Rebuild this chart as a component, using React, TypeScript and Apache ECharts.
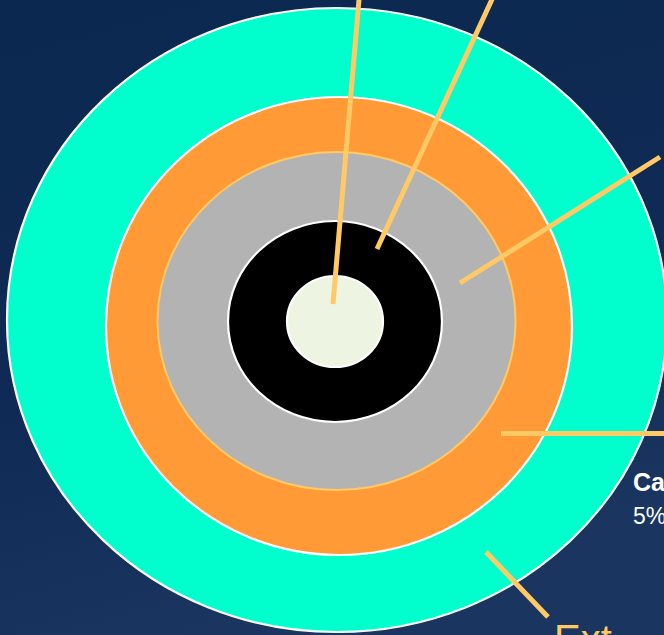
import React, { useEffect, useRef } from "react";
import * as echarts from "echarts";

// Concentric rings (outer to inner), in chart units (x: 0..664, y: 0..635, y downwards)
const ringNames = ["Outer", "Ring 2", "Ring 3", "Ring 4", "Core"];
const ringCenterX = [337, 339, 336.5, 335, 335];
const ringCenterY = [320, 326, 321, 321.5, 321.5];
const ringRadiusX = [330, 233, 179, 107, 48];
const ringRadiusY = [312, 229, 169, 100.5, 45.5];
const ringFill = ["#00ffcc", "#ff9a36", "#b3b3b3", "#000000", "#eef4e2"];
const ringStroke = ["#ffffff", "#ffffff", "#ffc966", "#ffffff", "#ffffff"];

// Leader lines
const leaderStartX = [333, 377, 460, 501, 486];
const leaderStartY = [304, 249, 283, 433, 552];
const leaderEndX = [359.4, 494, 660, 720, 548];
const leaderEndY = [-5, -5, 157, 433, 617];

// Labels
const labelTitle = "Ca";
const labelValue = "5%";
const bigLabel = "Ext";

export default function App() {
  const ref = useRef<HTMLDivElement>(null);
  useEffect(() => {
    if (!ref.current) return;
    const chart = echarts.init(ref.current, null, { renderer: "svg" });
    const ringData = ringNames.map((n, i) => ({
      name: n,
      value: [ringCenterX[i], ringCenterY[i], ringRadiusX[i], ringRadiusY[i]],
      itemStyle: { color: ringFill[i], borderColor: ringStroke[i] },
    }));
    const lineData = leaderStartX.map((x, i) => ({
      coords: [
        [x, leaderStartY[i]],
        [leaderEndX[i], leaderEndY[i]],
      ],
    }));
    chart.setOption({
      animation: false,
      backgroundColor: {
        type: "linear",
        x: 0,
        y: 0,
        x2: 0.3,
        y2: 1,
        colorStops: [
          { offset: 0, color: "#0b2850" },
          { offset: 0.6, color: "#0f2b55" },
          { offset: 1, color: "#1a355f" },
        ],
      },
      grid: { left: 0, right: 0, top: 0, bottom: 0 },
      xAxis: { type: "value", min: 0, max: 664, show: false },
      yAxis: { type: "value", min: 0, max: 635, inverse: true, show: false },
      series: [
        {
          type: "custom",
          coordinateSystem: "cartesian2d",
          data: ringData,
          clip: false,
          z: 2,
          renderItem: (params: any, api: any) => {
            const c = api.coord([api.value(0), api.value(1)]);
            const s = api.size([api.value(2), api.value(3)]);
            const i = params.dataIndex;
            return {
              type: "ellipse",
              shape: { cx: c[0], cy: c[1], rx: s[0], ry: s[1] },
              style: {
                fill: ringFill[i],
                stroke: ringStroke[i],
                lineWidth: i === 2 ? 2 : 2.2,
              },
            };
          },
        },
        {
          type: "lines",
          coordinateSystem: "cartesian2d",
          z: 5,
          data: lineData,
          lineStyle: { color: "#ffc966", width: 5, opacity: 1, cap: "butt" },
          symbol: ["none", "none"],
        },
      ],
      graphic: [
        {
          type: "text",
          x: 633,
          y: 469,
          style: {
            text: labelTitle,
            fill: "#ffffff",
            font: "bold 25px 'Liberation Sans', Arial, sans-serif",
          },
          z: 10,
        },
        {
          type: "text",
          x: 633,
          y: 504,
          style: {
            text: labelValue,
            fill: "#ffffff",
            font: "23px 'Liberation Sans', Arial, sans-serif",
          },
          z: 10,
        },
        {
          type: "text",
          x: 554,
          y: 619,
          style: {
            text: bigLabel,
            fill: "#ffc966",
            font: "40px 'Liberation Sans', Arial, sans-serif",
          },
          z: 10,
        },
      ],
    });
    return () => chart.dispose();
  }, []);
  return (
    <div
      ref={ref}
      style={{ position: "fixed", left: 0, top: 0, width: 664, height: 635 }}
    />
  );
}
